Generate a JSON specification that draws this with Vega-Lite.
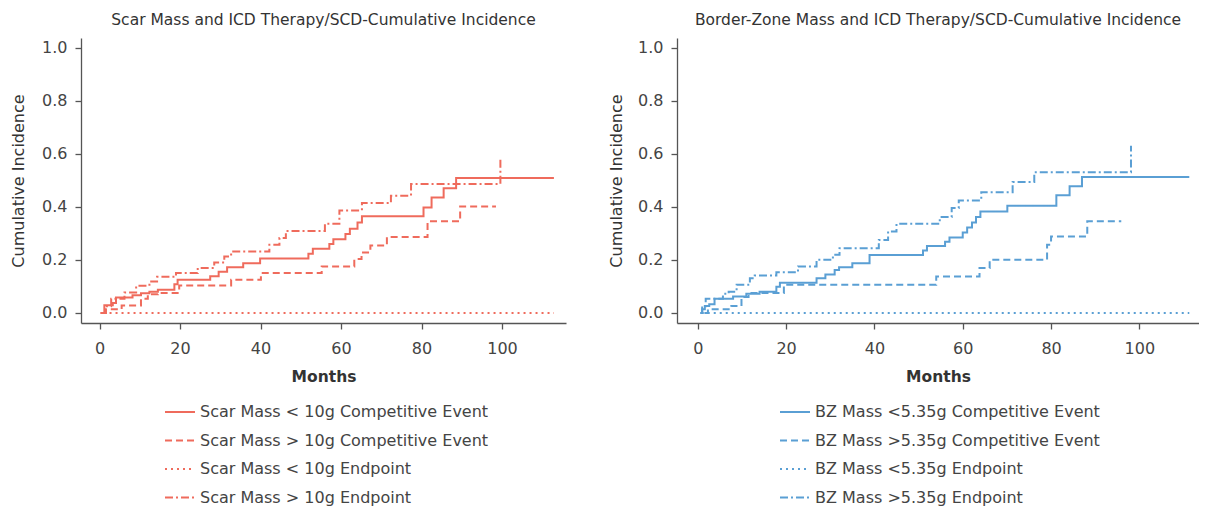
{
  "$schema": "https://vega.github.io/schema/vega-lite/v6.json",
  "background": "white",
  "padding": {"left": 10, "top": 12, "right": 0, "bottom": 0},
  "spacing": 42,
  "config": {
    "font": "DejaVu Sans",
    "view": {"stroke": null},
    "axis": {"grid": false, "domainColor": "#555", "tickColor": "#555", "domainWidth": 1.3, "tickWidth": 1.3, "tickSize": 6, "labelFontSize": 16, "labelColor": "#444", "titleFontSize": 16, "titleColor": "#333", "titleFontWeight": "normal", "labelPadding": 8},
    "title": {"fontSize": 15.5, "fontWeight": "normal", "color": "#333", "frame": "group", "offset": 10},
    "legend": {"labelFontSize": 16, "labelColor": "#444", "labelLimit": 500, "symbolType": "stroke", "symbolSize": 900, "symbolStrokeWidth": 2, "clipHeight": 18, "rowPadding": 10.5, "labelOffset": 4, "title": null}
  },
  "datasets": {
    "scar": [
      {"s": "Scar Mass < 10g Competitive Event", "m": 0.2, "v": 0},
      {"s": "Scar Mass < 10g Competitive Event", "m": 1.2, "v": 0.029},
      {"s": "Scar Mass < 10g Competitive Event", "m": 3.3, "v": 0.037},
      {"s": "Scar Mass < 10g Competitive Event", "m": 4.1, "v": 0.058},
      {"s": "Scar Mass < 10g Competitive Event", "m": 8.2, "v": 0.067},
      {"s": "Scar Mass < 10g Competitive Event", "m": 10.3, "v": 0.074},
      {"s": "Scar Mass < 10g Competitive Event", "m": 12.4, "v": 0.080},
      {"s": "Scar Mass < 10g Competitive Event", "m": 14.5, "v": 0.087},
      {"s": "Scar Mass < 10g Competitive Event", "m": 18.6, "v": 0.108},
      {"s": "Scar Mass < 10g Competitive Event", "m": 19.4, "v": 0.125},
      {"s": "Scar Mass < 10g Competitive Event", "m": 27.5, "v": 0.138},
      {"s": "Scar Mass < 10g Competitive Event", "m": 29.6, "v": 0.155},
      {"s": "Scar Mass < 10g Competitive Event", "m": 31.7, "v": 0.172},
      {"s": "Scar Mass < 10g Competitive Event", "m": 35.7, "v": 0.187},
      {"s": "Scar Mass < 10g Competitive Event", "m": 39.9, "v": 0.205},
      {"s": "Scar Mass < 10g Competitive Event", "m": 51.9, "v": 0.223},
      {"s": "Scar Mass < 10g Competitive Event", "m": 53.0, "v": 0.242},
      {"s": "Scar Mass < 10g Competitive Event", "m": 57.1, "v": 0.260},
      {"s": "Scar Mass < 10g Competitive Event", "m": 58.1, "v": 0.278},
      {"s": "Scar Mass < 10g Competitive Event", "m": 61.1, "v": 0.297},
      {"s": "Scar Mass < 10g Competitive Event", "m": 62.2, "v": 0.317},
      {"s": "Scar Mass < 10g Competitive Event", "m": 64.1, "v": 0.341},
      {"s": "Scar Mass < 10g Competitive Event", "m": 65.2, "v": 0.364},
      {"s": "Scar Mass < 10g Competitive Event", "m": 80.5, "v": 0.397},
      {"s": "Scar Mass < 10g Competitive Event", "m": 82.5, "v": 0.435},
      {"s": "Scar Mass < 10g Competitive Event", "m": 85.5, "v": 0.470},
      {"s": "Scar Mass < 10g Competitive Event", "m": 88.6, "v": 0.508},
      {"s": "Scar Mass < 10g Competitive Event", "m": 112.9, "v": 0.508},
      {"s": "Scar Mass > 10g Competitive Event", "m": 1.0, "v": 0},
      {"s": "Scar Mass > 10g Competitive Event", "m": 1.6, "v": 0.014},
      {"s": "Scar Mass > 10g Competitive Event", "m": 5.5, "v": 0.028},
      {"s": "Scar Mass > 10g Competitive Event", "m": 10.3, "v": 0.053},
      {"s": "Scar Mass > 10g Competitive Event", "m": 12.0, "v": 0.070},
      {"s": "Scar Mass > 10g Competitive Event", "m": 14.5, "v": 0.075},
      {"s": "Scar Mass > 10g Competitive Event", "m": 19.8, "v": 0.103},
      {"s": "Scar Mass > 10g Competitive Event", "m": 32.7, "v": 0.125},
      {"s": "Scar Mass > 10g Competitive Event", "m": 40.1, "v": 0.150},
      {"s": "Scar Mass > 10g Competitive Event", "m": 55.2, "v": 0.175},
      {"s": "Scar Mass > 10g Competitive Event", "m": 63.3, "v": 0.203},
      {"s": "Scar Mass > 10g Competitive Event", "m": 65.1, "v": 0.228},
      {"s": "Scar Mass > 10g Competitive Event", "m": 67.3, "v": 0.254},
      {"s": "Scar Mass > 10g Competitive Event", "m": 71.4, "v": 0.286},
      {"s": "Scar Mass > 10g Competitive Event", "m": 81.5, "v": 0.345},
      {"s": "Scar Mass > 10g Competitive Event", "m": 89.6, "v": 0.401},
      {"s": "Scar Mass > 10g Competitive Event", "m": 98.5, "v": 0.401},
      {"s": "Scar Mass < 10g Endpoint", "m": 1.0, "v": 0},
      {"s": "Scar Mass < 10g Endpoint", "m": 112.9, "v": 0},
      {"s": "Scar Mass > 10g Endpoint", "m": 0.5, "v": 0},
      {"s": "Scar Mass > 10g Endpoint", "m": 1.5, "v": 0.025},
      {"s": "Scar Mass > 10g Endpoint", "m": 2.9, "v": 0.053},
      {"s": "Scar Mass > 10g Endpoint", "m": 6.2, "v": 0.077},
      {"s": "Scar Mass > 10g Endpoint", "m": 9.1, "v": 0.102},
      {"s": "Scar Mass > 10g Endpoint", "m": 12.4, "v": 0.118},
      {"s": "Scar Mass > 10g Endpoint", "m": 14.3, "v": 0.136},
      {"s": "Scar Mass > 10g Endpoint", "m": 19.0, "v": 0.150},
      {"s": "Scar Mass > 10g Endpoint", "m": 24.4, "v": 0.169},
      {"s": "Scar Mass > 10g Endpoint", "m": 28.5, "v": 0.190},
      {"s": "Scar Mass > 10g Endpoint", "m": 31.0, "v": 0.213},
      {"s": "Scar Mass > 10g Endpoint", "m": 32.7, "v": 0.231},
      {"s": "Scar Mass > 10g Endpoint", "m": 42.2, "v": 0.257},
      {"s": "Scar Mass > 10g Endpoint", "m": 44.7, "v": 0.282},
      {"s": "Scar Mass > 10g Endpoint", "m": 46.3, "v": 0.309},
      {"s": "Scar Mass > 10g Endpoint", "m": 56.0, "v": 0.336},
      {"s": "Scar Mass > 10g Endpoint", "m": 59.6, "v": 0.386},
      {"s": "Scar Mass > 10g Endpoint", "m": 65.2, "v": 0.414},
      {"s": "Scar Mass > 10g Endpoint", "m": 72.4, "v": 0.442},
      {"s": "Scar Mass > 10g Endpoint", "m": 77.4, "v": 0.486},
      {"s": "Scar Mass > 10g Endpoint", "m": 99.6, "v": 0.584}
    ],
    "bz": [
      {"s": "BZ Mass <5.35g Competitive Event", "m": 0.6, "v": 0},
      {"s": "BZ Mass <5.35g Competitive Event", "m": 1.0, "v": 0.014},
      {"s": "BZ Mass <5.35g Competitive Event", "m": 1.6, "v": 0.026},
      {"s": "BZ Mass <5.35g Competitive Event", "m": 2.6, "v": 0.033},
      {"s": "BZ Mass <5.35g Competitive Event", "m": 3.8, "v": 0.053},
      {"s": "BZ Mass <5.35g Competitive Event", "m": 8.0, "v": 0.062},
      {"s": "BZ Mass <5.35g Competitive Event", "m": 11.0, "v": 0.072},
      {"s": "BZ Mass <5.35g Competitive Event", "m": 14.0, "v": 0.080},
      {"s": "BZ Mass <5.35g Competitive Event", "m": 17.8, "v": 0.099},
      {"s": "BZ Mass <5.35g Competitive Event", "m": 18.6, "v": 0.114},
      {"s": "BZ Mass <5.35g Competitive Event", "m": 26.9, "v": 0.131},
      {"s": "BZ Mass <5.35g Competitive Event", "m": 28.9, "v": 0.145},
      {"s": "BZ Mass <5.35g Competitive Event", "m": 31.0, "v": 0.162},
      {"s": "BZ Mass <5.35g Competitive Event", "m": 32.0, "v": 0.172},
      {"s": "BZ Mass <5.35g Competitive Event", "m": 35.0, "v": 0.187},
      {"s": "BZ Mass <5.35g Competitive Event", "m": 38.9, "v": 0.218},
      {"s": "BZ Mass <5.35g Competitive Event", "m": 51.0, "v": 0.235},
      {"s": "BZ Mass <5.35g Competitive Event", "m": 51.9, "v": 0.252},
      {"s": "BZ Mass <5.35g Competitive Event", "m": 56.0, "v": 0.268},
      {"s": "BZ Mass <5.35g Competitive Event", "m": 57.0, "v": 0.284},
      {"s": "BZ Mass <5.35g Competitive Event", "m": 60.0, "v": 0.303},
      {"s": "BZ Mass <5.35g Competitive Event", "m": 61.0, "v": 0.322},
      {"s": "BZ Mass <5.35g Competitive Event", "m": 62.1, "v": 0.341},
      {"s": "BZ Mass <5.35g Competitive Event", "m": 63.0, "v": 0.361},
      {"s": "BZ Mass <5.35g Competitive Event", "m": 64.0, "v": 0.382},
      {"s": "BZ Mass <5.35g Competitive Event", "m": 70.1, "v": 0.404},
      {"s": "BZ Mass <5.35g Competitive Event", "m": 81.2, "v": 0.443},
      {"s": "BZ Mass <5.35g Competitive Event", "m": 84.2, "v": 0.477},
      {"s": "BZ Mass <5.35g Competitive Event", "m": 87.0, "v": 0.512},
      {"s": "BZ Mass <5.35g Competitive Event", "m": 111.3, "v": 0.512},
      {"s": "BZ Mass >5.35g Competitive Event", "m": 1.5, "v": 0},
      {"s": "BZ Mass >5.35g Competitive Event", "m": 2.3, "v": 0.014},
      {"s": "BZ Mass >5.35g Competitive Event", "m": 7.6, "v": 0.026},
      {"s": "BZ Mass >5.35g Competitive Event", "m": 9.9, "v": 0.060},
      {"s": "BZ Mass >5.35g Competitive Event", "m": 11.5, "v": 0.075},
      {"s": "BZ Mass >5.35g Competitive Event", "m": 19.5, "v": 0.106},
      {"s": "BZ Mass >5.35g Competitive Event", "m": 54.0, "v": 0.137},
      {"s": "BZ Mass >5.35g Competitive Event", "m": 63.8, "v": 0.169},
      {"s": "BZ Mass >5.35g Competitive Event", "m": 66.1, "v": 0.200},
      {"s": "BZ Mass >5.35g Competitive Event", "m": 79.1, "v": 0.257},
      {"s": "BZ Mass >5.35g Competitive Event", "m": 80.0, "v": 0.288},
      {"s": "BZ Mass >5.35g Competitive Event", "m": 88.2, "v": 0.345},
      {"s": "BZ Mass >5.35g Competitive Event", "m": 95.9, "v": 0.345},
      {"s": "BZ Mass <5.35g Endpoint", "m": 0.9, "v": 0},
      {"s": "BZ Mass <5.35g Endpoint", "m": 111.3, "v": 0},
      {"s": "BZ Mass >5.35g Endpoint", "m": 0.6, "v": 0},
      {"s": "BZ Mass >5.35g Endpoint", "m": 1.0, "v": 0.020},
      {"s": "BZ Mass >5.35g Endpoint", "m": 1.8, "v": 0.053},
      {"s": "BZ Mass >5.35g Endpoint", "m": 5.7, "v": 0.072},
      {"s": "BZ Mass >5.35g Endpoint", "m": 7.0, "v": 0.080},
      {"s": "BZ Mass >5.35g Endpoint", "m": 8.8, "v": 0.106},
      {"s": "BZ Mass >5.35g Endpoint", "m": 11.8, "v": 0.131},
      {"s": "BZ Mass >5.35g Endpoint", "m": 12.9, "v": 0.141},
      {"s": "BZ Mass >5.35g Endpoint", "m": 17.8, "v": 0.153},
      {"s": "BZ Mass >5.35g Endpoint", "m": 22.7, "v": 0.175},
      {"s": "BZ Mass >5.35g Endpoint", "m": 26.9, "v": 0.200},
      {"s": "BZ Mass >5.35g Endpoint", "m": 30.6, "v": 0.219},
      {"s": "BZ Mass >5.35g Endpoint", "m": 32.1, "v": 0.244},
      {"s": "BZ Mass >5.35g Endpoint", "m": 41.0, "v": 0.275},
      {"s": "BZ Mass >5.35g Endpoint", "m": 43.1, "v": 0.307},
      {"s": "BZ Mass >5.35g Endpoint", "m": 45.0, "v": 0.336},
      {"s": "BZ Mass >5.35g Endpoint", "m": 54.8, "v": 0.361},
      {"s": "BZ Mass >5.35g Endpoint", "m": 57.5, "v": 0.395},
      {"s": "BZ Mass >5.35g Endpoint", "m": 59.1, "v": 0.424},
      {"s": "BZ Mass >5.35g Endpoint", "m": 64.2, "v": 0.455},
      {"s": "BZ Mass >5.35g Endpoint", "m": 71.3, "v": 0.493},
      {"s": "BZ Mass >5.35g Endpoint", "m": 76.2, "v": 0.530},
      {"s": "BZ Mass >5.35g Endpoint", "m": 98.1, "v": 0.630}
    ]
  },
  "resolve": {"scale": {"x": "independent", "y": "independent", "strokeDash": "independent"}, "legend": {"strokeDash": "independent"}},
  "hconcat": [
    {
      "title": "Scar Mass and ICD Therapy/SCD-Cumulative Incidence",
      "width": 485,
      "height": 285,
      "data": {"name": "scar"},
      "mark": {"type": "line", "interpolate": "step-after", "strokeWidth": 2, "color": "#EF6B5C"},
      "encoding": {
        "x": {"field": "m", "type": "quantitative", "scale": {"domain": [-4.6, 115.9], "nice": false, "zero": false}, "axis": {"values": [0, 20, 40, 60, 80, 100], "title": "Months", "titleFontWeight": "bold", "titleFontSize": 15.5, "labelPadding": 11, "titlePadding": 13}},
        "y": {"field": "v", "type": "quantitative", "scale": {"domain": [-0.038, 1.036], "nice": false, "zero": false}, "axis": {"values": [0, 0.2, 0.4, 0.6, 0.8, 1.0], "format": ".1f", "title": "Cumulative Incidence", "titlePadding": 15}},
        "strokeDash": {"field": "s", "type": "nominal", "scale": {"domain": ["Scar Mass < 10g Competitive Event", "Scar Mass > 10g Competitive Event", "Scar Mass < 10g Endpoint", "Scar Mass > 10g Endpoint"], "range": [[1, 0], [7, 4], [2, 4], [8, 3, 2, 3]]}, "legend": {"orient": "none", "legendX": 83, "legendY": 365, "symbolStrokeColor": "#EF6B5C"}}
      }
    },
    {
      "title": "Border-Zone Mass and ICD Therapy/SCD-Cumulative Incidence",
      "width": 522,
      "height": 285,
      "data": {"name": "bz"},
      "mark": {"type": "line", "interpolate": "step-after", "strokeWidth": 2, "color": "#5A9FD4"},
      "encoding": {
        "x": {"field": "m", "type": "quantitative", "scale": {"domain": [-4.7, 113.5], "nice": false, "zero": false}, "axis": {"values": [0, 20, 40, 60, 80, 100], "title": "Months", "titleFontWeight": "bold", "titleFontSize": 15.5, "labelPadding": 11, "titlePadding": 13}},
        "y": {"field": "v", "type": "quantitative", "scale": {"domain": [-0.038, 1.036], "nice": false, "zero": false}, "axis": {"values": [0, 0.2, 0.4, 0.6, 0.8, 1.0], "format": ".1f", "title": "Cumulative Incidence", "titlePadding": 13}},
        "strokeDash": {"field": "s", "type": "nominal", "scale": {"domain": ["BZ Mass <5.35g Competitive Event", "BZ Mass >5.35g Competitive Event", "BZ Mass <5.35g Endpoint", "BZ Mass >5.35g Endpoint"], "range": [[1, 0], [7, 4], [2, 4], [8, 3, 2, 3]]}, "legend": {"orient": "none", "legendX": 102, "legendY": 365, "symbolStrokeColor": "#5A9FD4"}}
      }
    }
  ]
}
